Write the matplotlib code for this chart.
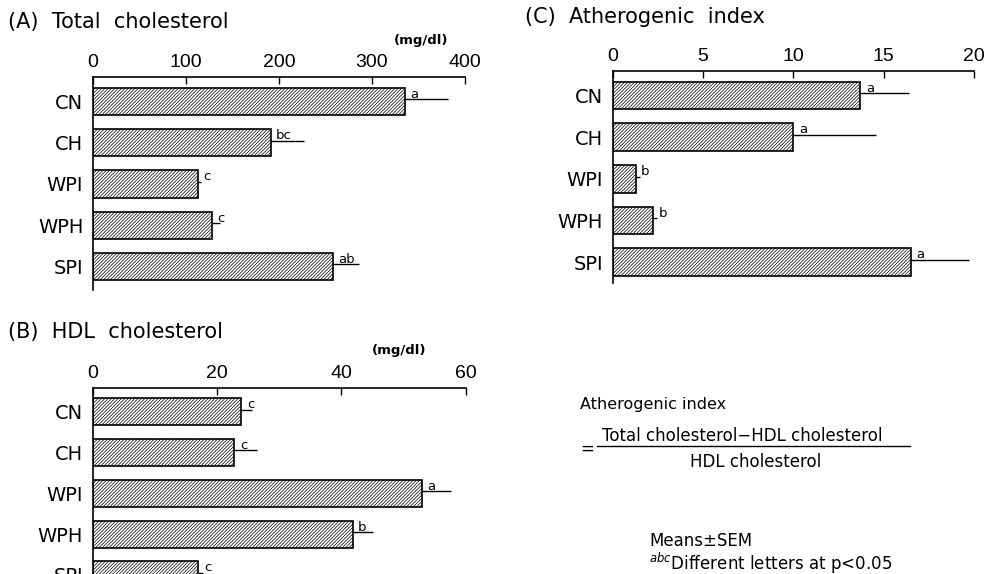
import numpy as np
import matplotlib
matplotlib.use('Agg')
import matplotlib.pyplot as plt
from matplotlib.lines import Line2D

groups = ['CN', 'CH', 'WPI', 'WPH', 'SPI']

# (A) total cholesterol, mg/dl
total_mean = [335, 191, 113, 128, 258]
total_sem = [47, 36, 3, 9, 28]
total_letters = ['a', 'bc', 'c', 'c', 'ab']

# (B) HDL cholesterol, mg/dl
hdl_mean = [23.9, 22.8, 52.9, 41.8, 17.0]
hdl_sem = [1.7, 3.6, 4.8, 3.3, 0.8]
hdl_letters = ['c', 'c', 'a', 'b', 'c']

# (C) atherogenic index
ai_mean = [13.7, 10.0, 1.27, 2.25, 16.5]
ai_sem = [2.7, 4.6, 0.25, 0.2, 3.2]
ai_letters = ['a', 'a', 'b', 'b', 'a']

plt.rcParams['hatch.linewidth'] = 0.5
narrow = ['Liberation Sans Narrow', 'Liberation Sans', 'DejaVu Sans']

fig = plt.figure(figsize=(9.9, 5.74), dpi=100)


def panel(rect, means, sems, letters, xmax, step, ylim):
    ax = fig.add_axes(rect)
    y = np.arange(len(groups))
    ax.barh(y, means, height=0.66, color='white', edgecolor='black',
            linewidth=1.2, hatch='//////////')
    ax.errorbar(means, y - 0.05, xerr=[np.zeros(len(means)), sems], fmt='none',
                ecolor='black', elinewidth=1.0, capsize=0)
    for i, (m, l) in enumerate(zip(means, letters)):
        ax.annotate(l, (m, i - 0.33), xytext=(4, 0), textcoords='offset points',
                    fontsize=9.5, ha='left', va='top')
    ax.set_xlim(0, xmax)
    ax.set_ylim(*ylim)
    ax.set_yticks(y)
    ax.set_yticklabels(groups, fontsize=14)
    ax.tick_params(axis='y', length=0, pad=7)
    ax.xaxis.tick_top()
    ax.set_xticks(np.arange(0, xmax + step / 2, step))
    ax.tick_params(axis='x', direction='in', length=5, width=1, pad=4)
    for t in ax.get_xticklabels():
        t.set_family(narrow)
        t.set_fontsize(14)
    ax.spines['right'].set_visible(False)
    ax.spines['bottom'].set_visible(False)
    ax.spines['top'].set_linewidth(1.2)
    ax.spines['left'].set_linewidth(1.2)
    return ax


panel([0.0939, 0.4948, 0.3758, 0.3711], total_mean, total_sem, total_letters,
      400, 100, (4.57, -0.595))
panel([0.6189, 0.5070, 0.3650, 0.3693], ai_mean, ai_sem, ai_letters,
      20, 5, (4.5, -0.59))
panel([0.0936, -0.042, 0.3768, 0.3667], hdl_mean, hdl_sem, hdl_letters,
      60, 20, (4.57, -0.59))

fig.text(0.008, 0.962, '(A)  Total  cholesterol', fontsize=15, va='center')
fig.text(0.398, 0.930, '(mg/dl)', fontsize=9.5, va='center', weight='bold')
fig.text(0.530, 0.970, '(C)  Atherogenic  index', fontsize=15, va='center')
fig.text(0.008, 0.422, '(B)  HDL  cholesterol', fontsize=15, va='center')
fig.text(0.376, 0.390, '(mg/dl)', fontsize=9.5, va='center', weight='bold')

fig.text(0.586, 0.296, 'Atherogenic index', fontsize=11.5, va='center')
fig.text(0.586, 0.218, '=', fontsize=12, va='center')
fig.text(0.6085, 0.240, 'Total cholesterol\u2212HDL cholesterol', fontsize=12,
         va='center', ha='left')
fig.add_artist(Line2D([0.603, 0.919], [0.223, 0.223], color='black', lw=1))
fig.text(0.763, 0.195, 'HDL cholesterol', fontsize=12, va='center', ha='center')
fig.text(0.656, 0.058, 'Means\u00b1SEM', fontsize=12, va='center')
fig.text(0.656, 0.019, '$^{abc}$Different letters at p<0.05', fontsize=12,
         va='center')

fig.savefig('out.png', dpi=100)
